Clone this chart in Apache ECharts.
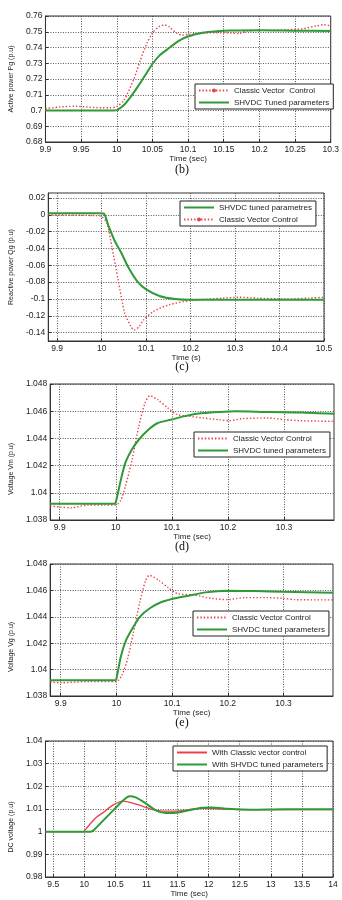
<!DOCTYPE html>
<html>
<head>
<meta charset="utf-8">
<script src="https://cdn.jsdelivr.net/npm/echarts@6/dist/echarts.min.js"></script>
<style>
  html, body { margin: 0; padding: 0; background: #fff; }
  #chart { width: 342px; height: 900px; }
</style>
</head>
<body>
<div id="chart"></div>
<script>
// (b) active power Pg
const pgTunedTime = [9.9, 9.995, 10.0, 10.01, 10.02, 10.03, 10.04, 10.05, 10.06, 10.07, 10.08, 10.09, 10.1, 10.12, 10.14, 10.16, 10.2, 10.25, 10.3]
const pgTuned = [0.700, 0.700, 0.7002, 0.7035, 0.709, 0.7155, 0.7225, 0.7295, 0.735, 0.7385, 0.742, 0.745, 0.747, 0.7493, 0.7503, 0.7508, 0.751, 0.7507, 0.7505]
const pgClassicTime = [9.9, 9.92, 9.94, 9.96, 9.98, 9.99, 10.0, 10.01, 10.024, 10.033, 10.042, 10.051, 10.06, 10.067, 10.074, 10.083, 10.092, 10.102, 10.115, 10.138, 10.161, 10.17, 10.184, 10.207, 10.239, 10.262, 10.28, 10.29, 10.3]
const pgClassic = [0.7012, 0.7022, 0.7027, 0.7022, 0.7017, 0.7017, 0.7025, 0.7065, 0.720, 0.7319, 0.7424, 0.7498, 0.7534, 0.7543, 0.753, 0.7494, 0.7479, 0.7484, 0.7488, 0.7494, 0.7492, 0.7488, 0.7505, 0.7509, 0.7513, 0.752, 0.7537, 0.7545, 0.7537]

// (c) reactive power Qg
const qgTunedTime = [9.88, 9.995, 10.005, 10.016, 10.03, 10.045, 10.059, 10.08, 10.101, 10.13, 10.165, 10.201, 10.3, 10.4, 10.5]
const qgTuned = [0.002, 0.002, 0.0015, -0.0139, -0.0317, -0.046, -0.0615, -0.079, -0.089, -0.0964, -0.100, -0.101, -0.101, -0.101, -0.101]
const qgClassicTime = [9.88, 9.95, 9.99, 10.0, 10.012, 10.023, 10.037, 10.052, 10.066, 10.073, 10.084, 10.094, 10.116, 10.151, 10.2, 10.272, 10.308, 10.35, 10.415, 10.465, 10.5]
const qgClassic = [0.0, -0.0005, -0.001, -0.002, -0.01, -0.0377, -0.077, -0.117, -0.133, -0.137, -0.133, -0.125, -0.115, -0.107, -0.102, -0.099, -0.098, -0.099, -0.100, -0.099, -0.098]

// (d) voltage Vm
const vmTunedTime = [9.883, 9.95, 9.998, 10.0, 10.009, 10.017, 10.029, 10.041, 10.058, 10.075, 10.098, 10.121, 10.145, 10.185, 10.214, 10.272, 10.33, 10.389]
const vmTuned = [1.0392, 1.0392, 1.0392, 1.0393, 1.04095, 1.0422, 1.0432, 1.0439, 1.04463, 1.04513, 1.04537, 1.04562, 1.04581, 1.04594, 1.046, 1.04594, 1.04591, 1.04581]
const vmClassicTime = [9.883, 9.9, 9.92, 9.95, 9.98, 10.0, 10.009, 10.017, 10.029, 10.041, 10.052, 10.061, 10.075, 10.093, 10.11, 10.133, 10.156, 10.185, 10.202, 10.226, 10.272, 10.301, 10.33, 10.389]
const vmClassic = [1.03903, 1.03895, 1.0389, 1.0391, 1.0391, 1.0391, 1.03947, 1.04046, 1.04242, 1.04488, 1.0466, 1.04714, 1.04684, 1.04623, 1.04574, 1.04562, 1.0455, 1.04537, 1.0453, 1.04545, 1.0455, 1.04537, 1.0453, 1.04525]

// (e) voltage Vg
const vgTunedTime = [9.881, 9.95, 9.998, 10.0, 10.008, 10.017, 10.03, 10.042, 10.06, 10.08, 10.1, 10.13, 10.16, 10.2, 10.25, 10.3, 10.389]
const vgTuned = [1.0392, 1.0392, 1.0392, 1.0393, 1.041, 1.0422, 1.0432, 1.044, 1.04465, 1.0451, 1.04535, 1.0456, 1.04585, 1.04597, 1.04595, 1.0459, 1.04582]
const vgClassicTime = [9.881, 9.9, 9.95, 10.0, 10.01, 10.02, 10.03, 10.042, 10.052, 10.059, 10.075, 10.093, 10.11, 10.14, 10.17, 10.2, 10.23, 10.27, 10.3, 10.32, 10.389]
const vgClassic = [1.03907, 1.039, 1.0391, 1.0391, 1.0396, 1.0408, 1.0427, 1.0451, 1.0467, 1.04714, 1.0468, 1.0462, 1.04575, 1.04565, 1.0454, 1.0453, 1.04545, 1.04545, 1.0454, 1.0453, 1.04528]

// (f) DC voltage
const dcTunedTime = [9.375, 10.0, 10.1, 10.149, 10.307, 10.465, 10.623, 10.729, 10.834, 10.993, 11.151, 11.31, 11.415, 11.626, 11.89, 12.05, 12.31, 12.68, 13.21, 14.0]
const dcTuned = [1.0, 1.0, 1.0, 1.0006, 1.005, 1.0094, 1.0138, 1.0156, 1.015, 1.0124, 1.0094, 1.0082, 1.0082, 1.0091, 1.0106, 1.0107, 1.0101, 1.0097, 1.0099, 1.0099]
const dcClassicTime = [9.375, 9.99, 10.0, 10.096, 10.2, 10.307, 10.465, 10.623, 10.78, 10.94, 11.098, 11.256, 11.467, 11.678, 11.889, 12.15, 12.68, 14.0]
const dcClassic = [1.0, 1.0, 1.0, 1.0035, 1.0065, 1.0085, 1.0118, 1.0135, 1.0126, 1.0112, 1.0097, 1.0091, 1.0091, 1.0097, 1.0103, 1.0101, 1.0097, 1.0097]

// tick values where the axis does not start on a tick
const qgTicks = [-0.14, -0.12, -0.1, -0.08, -0.06, -0.04, -0.02, 0, 0.02]
const qgTimeTicks = [9.9, 10, 10.1, 10.2, 10.3, 10.4, 10.5]
const vTimeTicks = [9.9, 10, 10.1, 10.2, 10.3]
const dcTimeTicks = [9.5, 10, 10.5, 11, 11.5, 12, 12.5, 13, 13.5, 14]

const captions = ['(b)', '(c)', '(d)', '(e)']
const legendText = {
  cvcB: 'Classic Vector  Control',
  tunedB: 'SHVDC Tuned parameters',
  tunedC: 'SHVDC tuned parametres',
  cvcC: 'Classic Vector Control',
  cvcD: 'Classic Vector Control',
  tunedD: 'SHVDC tuned parameters',
  cvcE: 'Classic Vector Control',
  tunedE: 'SHVDC tuned parameters',
  cvcF: 'With Classic vector control',
  tunedF: 'With SHVDC tuned parameters'
}
// legend entries that show a dot in the middle of the line
const markedLegend = ['cvcB', 'cvcC']

const GREEN = '#2f9a36'
const RED = '#e8414b'
const FONT = 'Liberation Sans'

const zip = (t, v) => t.map((x, i) => [x, v[i]])

const grids = [
  { left: 43, top: 16, width: 291, height: 126 },
  { left: 32, top: 193, width: 292, height: 148 },
  { left: 43, top: 384, width: 291, height: 136 },
  { left: 41, top: 564, width: 292, height: 132 },
  { left: 41, top: 741, width: 292, height: 136 }
].map(g => ({ ...g, show: true, borderColor: '#333', borderWidth: 1, backgroundColor: '#fff' }))

const gridLine = { show: true, lineStyle: { color: '#444', type: [1, 1.5], width: 0.9 } }
const tick = values => ({ show: true, inside: true, length: 3, lineStyle: { color: '#333' }, customValues: values })
const label = values => ({ fontSize: 8.5, color: '#222', margin: 3, fontFamily: FONT, customValues: values })

const xAxis = (gridIndex, opt) => ({
  type: 'value',
  gridIndex,
  name: 'Time (sec)',
  nameLocation: 'middle',
  nameGap: 11,
  nameTextStyle: { fontSize: 8, color: '#222', fontFamily: FONT },
  axisLine: { show: true, onZero: false, lineStyle: { color: '#333' } },
  axisTick: tick(),
  axisLabel: label(),
  splitLine: gridLine,
  ...opt
})

const yAxis = (gridIndex, name, nameGap, shift, opt) => ({
  type: 'value',
  gridIndex,
  name,
  nameLocation: 'middle',
  nameGap,
  nameTextStyle: { fontSize: 7, color: '#222', fontFamily: FONT, padding: [0, shift, 0, 0] },
  axisLine: { show: true, onZero: false, lineStyle: { color: '#333' } },
  axisTick: tick(),
  axisLabel: label(),
  splitLine: gridLine,
  ...opt
})

const line = (name, idx, data, kind) => {
  const s = {
    name,
    type: 'line',
    xAxisIndex: idx,
    yAxisIndex: idx,
    data,
    smooth: 0.25,
    showSymbol: false,
    symbol: 'circle',
    animation: false
  }
  if (kind === 'green') {
    s.lineStyle = { color: GREEN, width: 2 }
  } else if (kind === 'redSolid') {
    s.lineStyle = { color: RED, width: 1.3 }
  } else {
    s.lineStyle = { color: RED, width: 1.4, type: [1.4, 2] }
  }
  s.itemStyle = { color: kind === 'green' ? GREEN : RED }
  return s
}

const legend = (left, top, names) => ({
  left, top,
  data: names.map(n => markedLegend.includes(n) ? n : { name: n, itemStyle: { opacity: 0 } }),
  orient: 'vertical',
  selectedMode: false,
  itemWidth: 30,
  itemHeight: 5,
  itemGap: 3,
  padding: [2, 4, 2, 3],
  borderColor: '#222',
  borderWidth: 1,
  backgroundColor: '#fff',
  formatter: n => legendText[n],
  textStyle: { fontSize: 8, color: '#222', fontFamily: FONT, lineHeight: 9 }
})

const caption = (text, y) => ({
  type: 'text',
  x: 182,
  y,
  style: { text, fill: '#111', font: '12px "Liberation Serif"', align: 'center', verticalAlign: 'middle' }
})

const chart = echarts.init(document.getElementById('chart'))

chart.setOption({
  backgroundColor: '#fff',
  animation: false,
  grid: grids,
  xAxis: [
    xAxis(0, { min: 9.9, max: 10.3, interval: 0.05, nameGap: 10 }),
    xAxis(1, { min: 9.88, max: 10.5, name: 'Time (s)', nameGap: 13, axisTick: tick(qgTimeTicks), axisLabel: label(qgTimeTicks) }),
    xAxis(2, { min: 9.883, max: 10.389, nameGap: 12, axisTick: tick(vTimeTicks), axisLabel: label(vTimeTicks) }),
    xAxis(3, { min: 9.881, max: 10.389, nameGap: 11, axisTick: tick(vTimeTicks), axisLabel: label(vTimeTicks) }),
    xAxis(4, { min: 9.375, max: 14, nameGap: 12, axisTick: tick(dcTimeTicks), axisLabel: label(dcTimeTicks) })
  ],
  yAxis: [
    yAxis(0, 'Active power Pg (p.u)', 24, 0, { min: 0.68, max: 0.76, interval: 0.01 }),
    yAxis(1, 'Reactive power Qg (p.u)', 28, 0, { min: -0.15, max: 0.026, axisTick: tick(qgTicks), axisLabel: label(qgTicks) }),
    yAxis(2, 'Voltage Vm (p.u)', 29, 34, { min: 1.038, max: 1.048, interval: 0.002 }),
    yAxis(3, 'Voltage Vg (p.u)', 29, 34, { min: 1.038, max: 1.048, interval: 0.002 }),
    yAxis(4, 'DC voltage (p.u)', 24, 36, { min: 0.98, max: 1.04, interval: 0.01 })
  ],
  legend: [
    legend(195, 84, ['cvcB', 'tunedB']),
    legend(180, 201, ['tunedC', 'cvcC']),
    legend(194, 432, ['cvcD', 'tunedD']),
    legend(193, 611, ['cvcE', 'tunedE']),
    legend(173, 746, ['cvcF', 'tunedF'])
  ],
  series: [
    line('cvcB', 0, zip(pgClassicTime, pgClassic), 'dot'),
    line('tunedB', 0, zip(pgTunedTime, pgTuned), 'green'),
    line('cvcC', 1, zip(qgClassicTime, qgClassic), 'dot'),
    line('tunedC', 1, zip(qgTunedTime, qgTuned), 'green'),
    line('cvcD', 2, zip(vmClassicTime, vmClassic), 'dot'),
    line('tunedD', 2, zip(vmTunedTime, vmTuned), 'green'),
    line('cvcE', 3, zip(vgClassicTime, vgClassic), 'dot'),
    line('tunedE', 3, zip(vgTunedTime, vgTuned), 'green'),
    line('cvcF', 4, zip(dcClassicTime, dcClassic), 'redSolid'),
    line('tunedF', 4, zip(dcTunedTime, dcTuned), 'green')
  ],
  graphic: [
    caption(captions[0], 170),
    caption(captions[1], 367),
    caption(captions[2], 547),
    caption(captions[3], 723)
  ]
})

window.addEventListener('resize', () => chart.resize())
</script>
</body>
</html>
